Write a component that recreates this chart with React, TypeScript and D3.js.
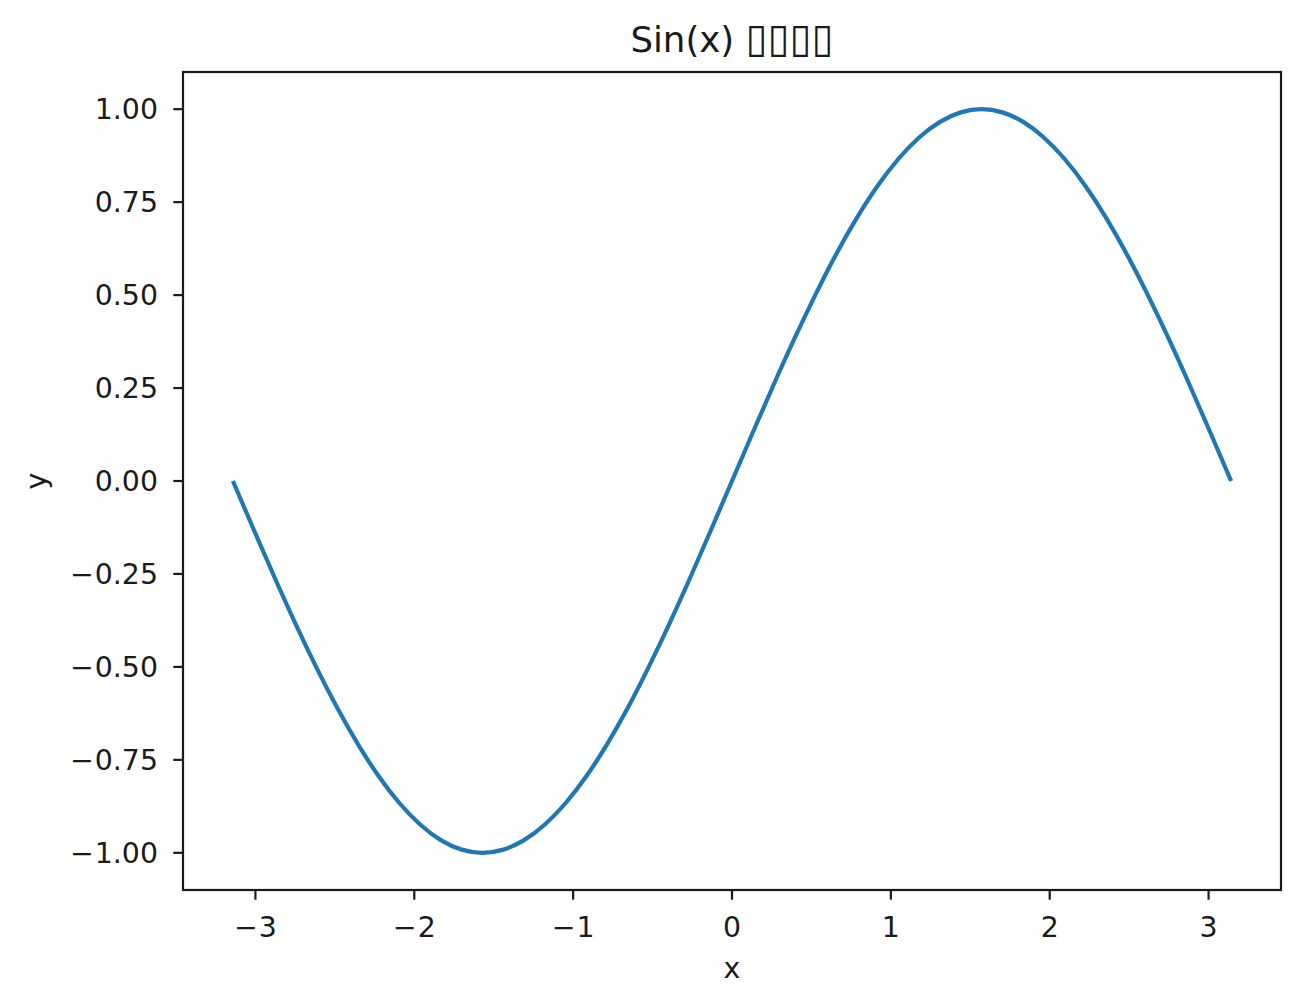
import React from "react";
import * as d3 from "d3";

const xValues = [
  -3.142, -3.011, -2.880, -2.749, -2.618, -2.487, -2.356, -2.225, -2.094, -1.963, -1.833, -1.702,
  -1.571, -1.440, -1.309, -1.178, -1.047, -0.916, -0.785, -0.654, -0.524, -0.393, -0.262, -0.131,
  0,
  0.131, 0.262, 0.393, 0.524, 0.654, 0.785, 0.916, 1.047, 1.178, 1.309, 1.440, 1.571,
  1.702, 1.833, 1.963, 2.094, 2.225, 2.356, 2.487, 2.618, 2.749, 2.880, 3.011, 3.142,
];
const yValues = [
  0.0, -0.1305, -0.2588, -0.3827, -0.5, -0.6088, -0.7071, -0.7934, -0.866, -0.9239, -0.9659, -0.9914,
  -1.0, -0.9914, -0.9659, -0.9239, -0.866, -0.7934, -0.7071, -0.6088, -0.5, -0.3827, -0.2588, -0.1305,
  0,
  0.1305, 0.2588, 0.3827, 0.5, 0.6088, 0.7071, 0.7934, 0.866, 0.9239, 0.9659, 0.9914, 1.0,
  0.9914, 0.9659, 0.9239, 0.866, 0.7934, 0.7071, 0.6088, 0.5, 0.3827, 0.2588, 0.1305, 0.0,
];
const xTicks = [-3, -2, -1, 0, 1, 2, 3];
const yTicks = [-1.0, -0.75, -0.5, -0.25, 0, 0.25, 0.5, 0.75, 1.0];
const titleMain = "Sin(x) ";
const titleMissing = "\u25AF\u25AF\u25AF\u25AF";
const xLabel = "x";
const yLabel = "y";

const W = 1300, H = 1008;
const L = 183, R = 1281, T = 72, B = 890;
const FONT = "'DejaVu Sans', sans-serif";
const INK = "#1a1a1a";
const TICK_FS = 28.4;

export default function App() {
  const x = d3.scaleLinear().domain([-3.456, 3.456]).range([L, R]);
  const y = d3.scaleLinear().domain([-1.1, 1.1]).range([B, T]);
  const data = xValues.map((v, i) => [v, yValues[i]] as [number, number]);
  const line = d3.line<[number, number]>().x(d => x(d[0])).y(d => y(d[1])).curve(d3.curveNatural);
  const fmtX = d3.format("d");
  const fmtY = d3.format(".2f");
  const label = (s: string) => {
    if (s.startsWith("\u2212")) {
      return (<><tspan>{"\u2212"}</tspan><tspan dx={1}>{s.slice(1)}</tspan></>);
    }
    return s;
  };
  return (
    <svg width={W} height={H} style={{ position: "absolute", left: 0, top: 0, background: "#fff", fontKerning: "none" }} fontFamily={FONT}>
      <rect x={0} y={0} width={W} height={H} fill="#fff" />
      <path d={line(data) || ""} fill="none" stroke="#1f77b4" strokeWidth={4.2} strokeLinecap="butt" />
      <rect x={L} y={T} width={R - L} height={B - T} fill="none" stroke={INK} strokeWidth={2.2} />
      {xTicks.map(t => (
        <g key={"x" + t}>
          <line x1={x(t)} x2={x(t)} y1={B} y2={B + 9.7} stroke={INK} strokeWidth={2.2} />
          <text x={x(t)} y={B + 47} textAnchor="middle" fontSize={TICK_FS} fill={INK}>{label(fmtX(t))}</text>
        </g>
      ))}
      {yTicks.map(t => (
        <g key={"y" + t}>
          <line x1={L - 9.7} x2={L} y1={y(t)} y2={y(t)} stroke={INK} strokeWidth={2.2} />
          <text x={L - 25} y={y(t)} dy="0.36em" textAnchor="end" fontSize={TICK_FS} fill={INK}>{label(fmtY(t))}</text>
        </g>
      ))}
      <text x={(L + R) / 2} y={52} textAnchor="middle" fontSize={35.6} fill={INK}>
        {titleMain}
        <tspan fontSize={40}>{titleMissing}</tspan>
      </text>
      <text x={(L + R) / 2} y={978} textAnchor="middle" fontSize={TICK_FS} fill={INK}>{xLabel}</text>
      <text transform={`translate(46, ${(T + B) / 2}) rotate(-90)`} textAnchor="middle" fontSize={TICK_FS} fill={INK}>{yLabel}</text>
    </svg>
  );
}
